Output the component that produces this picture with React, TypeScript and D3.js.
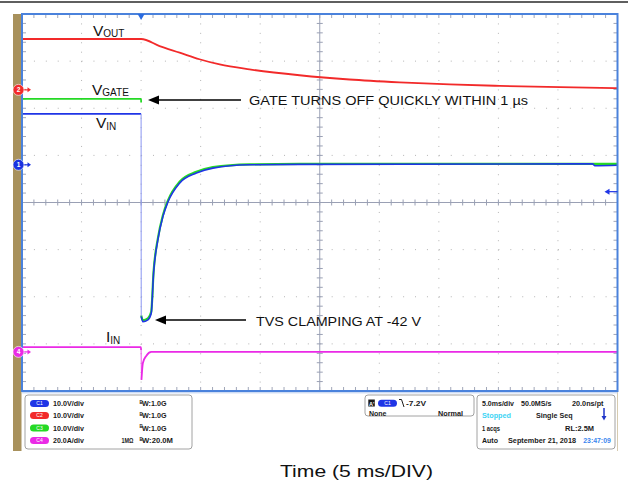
import React from "react";
import * as d3 from "d3";

// ---------- data (read from the scope capture) ----------
// time axis: 5 ms/div, 10 divisions, trigger at 2 div from left
const timeDomain: [number, number] = [-10, 40];
const vDivs = 8;
const hDivs = 10;

// C1 VIN (V)
const vinTime = [-10, 0, 0.01, 0.15, 0.57, 0.85, 1.05, 1.41, 1.83, 2.25, 3.23, 4.64, 6.03, 9.1, 13.3, 37.9, 38.1, 40];
const vinVolts = [10.8, 10.8, -32.2, -33.3, -32.9, -31.5, -22.9, -15.9, -11, -7.9, -3.9, -1.76, -0.7, 0, 0.1, 0.2, -0.2, -0.1];

// C3 VGATE (V)
const vgateTime = [-10, 0, 0.004, 0.01, 0.15, 0.57, 0.85, 1.05, 1.41, 1.83, 2.25, 3.23, 4.64, 6.03, 9.1, 13.3, 40];
const vgateVolts = [14.0, 14.0, 13.2, -32, -33.0, -32.6, -31.2, -22.6, -15.6, -10.7, -7.6, -3.6, -1.5, -0.5, 0.1, 0.2, 0.2];

// C2 VOUT (V)
const voutTime = [-10, 0, 1.55, 3.24, 4.9, 6.6, 9.1, 13.3, 17.5, 21.7, 25.9, 30.1, 35.2, 40];
const voutVolts = [10.8, 10.8, 9.3, 7.9, 6.5, 5.4, 4.35, 3.1, 2.2, 1.6, 1.15, 0.85, 0.57, 0.38];

// C4 IIN (A)
const iinTime = [-10, -0.02, 0, 0.03, 0.15, 0.43, 0.86, 40];
const iinAmps = [2.0, 2.0, 0.8, -11.9, -4.7, -1.7, 0.0, 0.0];

// channel setup: ground offset in divisions from screen centre, units per div
const chNames = ["C1", "C2", "C3", "C4"];
const chScales = ["10.0V/div", "10.0V/div", "10.0V/div", "20.0A/div"];
const chBandwidth = ["1.0G", "1.0G", "1.0G", "20.0M"];
const chPerDiv = [10, 10, 10, 20];
const chOffsetDiv = [0.8, 2.39, 0.8, -3.17];
const chColors = ["#1f35e6", "#f22a2a", "#25d925", "#ea2ae6"];
const triggerLevel = -5.7; // V on C1 (marker position)

const timeLabel = "Time (5 ms/DIV)";

// ---------- layout ----------
const W = 628, H = 485;
const L = 22, R = 617.5, T = 14, B = 391;
const FONT = "Arial, 'Liberation Sans', Helvetica, sans-serif";

const x = d3.scaleLinear().domain(timeDomain).range([L, R]);
const yDiv = d3.scaleLinear().domain([-vDivs / 2, vDivs / 2]).range([B, T]);
const chY = (ci: number) => (v: number) => yDiv(chOffsetDiv[ci] + v / chPerDiv[ci]);

const zip = (a: number[], b: number[]) => a.map((t, i) => [t, b[i]] as [number, number]);

function tracePath(ci: number, pts: [number, number][]) {
  const yc = chY(ci);
  return d3
    .line<[number, number]>()
    .x((d) => x(d[0]))
    .y((d) => yc(d[1]))
    .curve(d3.curveMonotoneX)(pts) as string;
}

function Graticule() {
  const divW = (R - L) / hDivs;
  const divH = (B - T) / vDivs;
  const els: React.ReactNode[] = [];
  for (let i = 1; i < hDivs; i++) {
    if (i === hDivs / 2) continue;
    const xx = L + i * divW;
    els.push(
      <line key={"vd" + i} x1={xx} x2={xx} y1={T} y2={B} stroke="#b4b4b4" strokeWidth={1}
        strokeDasharray={`1 ${divH / 5 - 1}`} />
    );
  }
  for (let j = 1; j < vDivs; j++) {
    if (j === vDivs / 2) continue;
    const yy = T + j * divH;
    els.push(
      <line key={"hd" + j} x1={L} x2={R} y1={yy} y2={yy} stroke="#b4b4b4" strokeWidth={1}
        strokeDasharray={`1 ${divW / 5 - 1}`} />
    );
  }
  const cx = L + (hDivs / 2) * divW;
  const cy = T + (vDivs / 2) * divH;
  els.push(<line key="cax" x1={L} x2={R} y1={cy} y2={cy} stroke="#9aa0b4" strokeWidth={1} />);
  els.push(<line key="cay" x1={cx} x2={cx} y1={T} y2={B} stroke="#9aa0b4" strokeWidth={1} />);
  for (let k = 1; k < hDivs * 5; k++) {
    const xx = L + (k * divW) / 5;
    els.push(<line key={"ctx" + k} x1={xx} x2={xx} y1={cy - 3} y2={cy + 3} stroke="#9aa0b4" strokeWidth={1} />);
    els.push(<line key={"ttx" + k} x1={xx} x2={xx} y1={T} y2={T + 4} stroke="#a0a6b8" strokeWidth={1} />);
    els.push(<line key={"btx" + k} x1={xx} x2={xx} y1={B - 4} y2={B} stroke="#a0a6b8" strokeWidth={1} />);
  }
  for (let k = 1; k < vDivs * 5; k++) {
    const yy = T + (k * divH) / 5;
    els.push(<line key={"cty" + k} x1={cx - 3} x2={cx + 3} y1={yy} y2={yy} stroke="#9aa0b4" strokeWidth={1} />);
    els.push(<line key={"lty" + k} x1={L} x2={L + 4} y1={yy} y2={yy} stroke="#a0a6b8" strokeWidth={1} />);
    els.push(<line key={"rty" + k} x1={R - 4} x2={R} y1={yy} y2={yy} stroke="#a0a6b8" strokeWidth={1} />);
  }
  return <g>{els}</g>;
}

function Marker({ y, color, label }: { y: number; color: string; label: string }) {
  return (
    <g>
      <line x1={22} x2={29} y1={y} y2={y} stroke={color} strokeWidth={1.2} />
      <path d={`M31,${y} L27.5,${y - 2.5} L27.5,${y + 2.5} Z`} fill={color} />
      <circle cx={18.5} cy={y} r={5.5} fill={color} stroke="#ffffff" strokeWidth={0.6} />
      <text x={18.5} y={y + 2.4} fontSize={6.5} fontWeight="bold" fill="#fff" textAnchor="middle" fontFamily={FONT}>
        {label}
      </text>
    </g>
  );
}

function Pill({ x0, y0, color, label }: { x0: number; y0: number; color: string; label: string }) {
  return (
    <g>
      <rect x={x0} y={y0 - 3.5} width={19} height={7} rx={3.5} fill={color} />
      <text x={x0 + 9.5} y={y0 + 2} fontSize={5} fill="#fff" textAnchor="middle" fontFamily={FONT}>
        {label}
      </text>
    </g>
  );
}

function Arrow({ x1, x2, y }: { x1: number; x2: number; y: number }) {
  return (
    <g>
      <line x1={x1} x2={x2 + 8} y1={y} y2={y} stroke="#000" strokeWidth={1.3} />
      <path d={`M${x2},${y} L${x2 + 11},${y - 4.5} L${x2 + 11},${y + 4.5} Z`} fill="#000" />
    </g>
  );
}

function Info({ x0, y0, w, children, fill }: { x0: number; y0: number; w: number; children: React.ReactNode; fill?: string }) {
  return (
    <text x={x0} y={y0} fontSize={7} fontWeight="bold" fontFamily={FONT} fill={fill || "#1a1a1a"}
      textLength={w} lengthAdjust="spacingAndGlyphs">
      {children}
    </text>
  );
}

export default function App() {
  const vin = zip(vinTime, vinVolts);
  const vgate = zip(vgateTime, vgateVolts);
  const vout = zip(voutTime, voutVolts);
  const iin = zip(iinTime, iinAmps);

  const rows = [406, 418, 430.5, 443];

  return (
    <div style={{ position: "absolute", left: 0, top: 0 }}>
      <svg width={W} height={H} viewBox={`0 0 ${W} ${H}`} style={{ display: "block", background: "#fff" }}>
        {/* top rule */}
        <line x1={0} x2={W} y1={2} y2={2} stroke="#2a2a2a" strokeWidth={1.6} />
        {/* instrument frame */}
        <rect x={13} y={T} width={8.5} height={451 - T} fill="#a8915c" />
        <line x1={617.5} x2={617.5} y1={B} y2={451} stroke="#d6cbb0" strokeWidth={1} />
        <rect x={L} y={T} width={R - L} height={B - T} fill="#ffffff" />

        <Graticule />

        {/* traces */}
        <path d={tracePath(2, vgate.slice(0, 3))} fill="none" stroke={chColors[2]} strokeWidth={1.8} />
        <path d={tracePath(2, vgate.slice(3))} fill="none" stroke={chColors[2]} strokeWidth={2.2} />
        <path d={tracePath(1, vout)} fill="none" stroke={chColors[1]} strokeWidth={1.8} />
        <path d={tracePath(3, iin.slice(0, 3))} fill="none" stroke={chColors[3]} strokeWidth={1.8} />
        <path d={tracePath(3, iin.slice(2, 4))} fill="none" stroke={chColors[3]} strokeWidth={1} opacity={0.8} />
        <path d={tracePath(3, iin.slice(3))} fill="none" stroke={chColors[3]} strokeWidth={1.8} />
        <path d={tracePath(0, vin.slice(0, 2))} fill="none" stroke={chColors[0]} strokeWidth={1.8} />
        <path d={tracePath(0, vin.slice(1, 3))} fill="none" stroke="#8a96f2" strokeWidth={1} />
        <path d={tracePath(0, vin.slice(2))} fill="none" stroke={chColors[0]} strokeWidth={1.6} />

        {/* border */}
        <rect x={L} y={T} width={R - L} height={B - T} fill="none" stroke="#4a82dc" strokeWidth={2} />
        <line x1={L} x2={R} y1={B + 1.8} y2={B + 1.8} stroke="#b9cdf0" strokeWidth={1} />

        {/* trigger position marker */}
        <path d={`M${x(0) - 3.5},${T} L${x(0) + 3.5},${T} L${x(0)},${T + 6} Z`} fill="#2a6be0" />
        {/* trigger level marker */}
        <line x1={608} x2={R} y1={chY(0)(triggerLevel)} y2={chY(0)(triggerLevel)} stroke="#1f35e6" strokeWidth={1.2} />
        <path d={`M604.5,${chY(0)(triggerLevel)} L609.5,${chY(0)(triggerLevel) - 3} L609.5,${chY(0)(triggerLevel) + 3} Z`} fill="#1f35e6" />

        {/* channel ground markers */}
        <Marker y={chY(1)(0)} color={chColors[1]} label="2" />
        <Marker y={chY(0)(0)} color="#1a32e0" label="1" />
        <Marker y={chY(3)(0)} color={chColors[3]} label="4" />

        {/* trace labels */}
        <text x={93} y={36} fontFamily={FONT} fontSize={15.5} fill="#111">
          V<tspan fontSize={10} dy={1}>OUT</tspan>
        </text>
        <text x={92} y={95} fontFamily={FONT} fontSize={15.5} fill="#111">
          V<tspan fontSize={10} dy={1}>GATE</tspan>
        </text>
        <text x={96} y={128} fontFamily={FONT} fontSize={15.5} fill="#111">
          V<tspan fontSize={10} dy={1.5}>IN</tspan>
        </text>
        <text x={106} y={342} fontFamily={FONT} fontSize={15.5} fill="#111">
          I<tspan fontSize={10} dy={1.5}>IN</tspan>
        </text>

        {/* annotations */}
        <Arrow x1={241} x2={148} y={100} />
        <text x={249} y={105} fontFamily={FONT} fontSize={12.5} fill="#111" textLength={279} lengthAdjust="spacingAndGlyphs">
          GATE TURNS OFF QUICKLY WITHIN 1 µs
        </text>
        <Arrow x1={246} x2={155} y={320} />
        <text x={256} y={325.5} fontFamily={FONT} fontSize={12.5} fill="#111" textLength={165} lengthAdjust="spacingAndGlyphs">
          TVS CLAMPING AT -42 V
        </text>

        {/* channel info box */}
        <rect x={25} y={395} width={167} height={54} rx={3} fill="#fff" stroke="#8a8a8a" strokeWidth={0.8} />
        {chNames.map((c, i) => (
          <g key={c}>
            <Pill x0={30} y0={rows[i] - 2.6} color={chColors[i]} label={c} />
            <Info x0={53} y0={rows[i]} w={31}>{chScales[i]}</Info>
            {i === 3 && <Info x0={121.5} y0={rows[i]} w={12}>1MΩ</Info>}
            <text x={139.5} y={rows[i] - 2.5} fontSize={4.5} fontWeight="bold" fontFamily={FONT} fill="#1a1a1a">B</text>
            <Info x0={142} y0={rows[i]} w={i === 3 ? 31 : 24.5}>{"W:" + chBandwidth[i]}</Info>
          </g>
        ))}

        {/* trigger box */}
        <rect x={365} y={395} width={109} height={21} rx={3} fill="#fff" stroke="#8a8a8a" strokeWidth={0.8} />
        <rect x={368.3} y={399.5} width={6.5} height={7} fill="#1a1a1a" />
        <text x={369} y={405.5} fontSize={5.5} fill="#fff" fontFamily={FONT} fontWeight="bold">A'</text>
        <Pill x0={378} y0={403.2} color="#1f35e6" label="C1" />
        <path d="M399,399.5 L401.5,399.5 L404,407" fill="none" stroke="#1a1a1a" strokeWidth={1} />
        <Info x0={406} y0={406} w={20}>-7.2V</Info>
        <Info x0={369} y0={415.5} w={17.5}>None</Info>
        <Info x0={438} y0={415.5} w={25}>Normal</Info>

        {/* timebase box */}
        <rect x={477} y={395} width={138} height={54} rx={3} fill="#fff" stroke="#8a8a8a" strokeWidth={0.8} />
        <Info x0={482} y0={rows[0]} w={32}>5.0ms/div</Info>
        <Info x0={521} y0={rows[0]} w={30.5}>50.0MS/s</Info>
        <Info x0={572} y0={rows[0]} w={31.5}>20.0ns/pt</Info>
        <Info x0={482} y0={rows[1]} w={29} fill="#3cd4f4">Stopped</Info>
        <Info x0={536} y0={rows[1]} w={36.5}>Single Seq</Info>
        <line x1={604} x2={604} y1={408} y2={417} stroke="#1f35c8" strokeWidth={1.5} />
        <path d="M601.5,416 L606.5,416 L604,420.5 Z" fill="#1f35c8" />
        <Info x0={482} y0={rows[2]} w={18}>1 acqs</Info>
        <Info x0={565} y0={rows[2]} w={29}>RL:2.5M</Info>
        <Info x0={482} y0={rows[3]} w={16}>Auto</Info>
        <Info x0={508} y0={rows[3]} w={68}>September 21, 2018</Info>
        <Info x0={583.3} y0={rows[3]} w={27.5} fill="#3a86ee">23:47:09</Info>

        {/* axis title */}
        <text x={280} y={476.5} fontFamily={FONT} fontSize={17} fill="#111" textLength={153} lengthAdjust="spacingAndGlyphs">
          {timeLabel}
        </text>
      </svg>
    </div>
  );
}
